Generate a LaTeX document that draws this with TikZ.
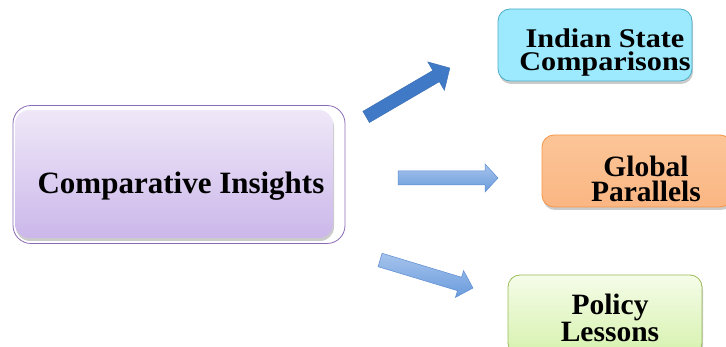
\documentclass[tikz,border=0pt]{standalone}
\usepackage{fontspec}
\setmainfont{Liberation Serif}[BoldFont={Liberation Serif Bold}]
\newfontfamily\boxfont{Liberation Serif Bold}
\newfontfamily\widefont{Liberation Serif Bold}[FakeStretch=1.12]
\usetikzlibrary{shadows}
\definecolor{mainTop}{HTML}{EFE8F8}
\definecolor{mainBot}{HTML}{CBB7EA}
\definecolor{mainLine}{HTML}{8A6BB5}
\definecolor{indFill}{HTML}{9DE9FD}
\definecolor{indLine}{HTML}{4BACC6}
\definecolor{gloTop}{HTML}{FCC597}
\definecolor{gloBot}{HTML}{FAB683}
\definecolor{gloLine}{HTML}{F79646}
\definecolor{polTop}{HTML}{F5FCE8}
\definecolor{polBot}{HTML}{D6F2AE}
\definecolor{polLine}{HTML}{9BBB59}
\definecolor{darkArrow}{HTML}{4079C6}
\definecolor{arrTop}{HTML}{A6C3EC}
\definecolor{arrBot}{HTML}{6A9CDD}
\definecolor{arrLine}{HTML}{5B8BD2}
\begin{document}
\begin{tikzpicture}[x=1pt,y=1pt,
  box/.style={rounded corners=12pt, line width=0.8pt, inner sep=0pt,
    drop shadow={shadow xshift=1pt, shadow yshift=-3pt, fill=black!45, opacity=0.45}},
  lbl/.style={anchor=base, inner sep=0pt, align=center,
    font=\boxfont\fontsize{29.5}{24.5}\selectfont},
  darkarr/.style={fill=darkArrow, draw=darkArrow!90!black, line width=0.4pt},
  lightarr/.style={top color=arrTop, bottom color=arrBot, draw=arrLine, line width=0.5pt}
]
\useasboundingbox (0,0) rectangle (726,347);

% main box
\node[box, top color=mainTop, bottom color=mainBot,
      minimum width=318pt, minimum height=128pt, rounded corners=14pt] (mainin) at (174,173) {};
\node[draw=mainLine, line width=0.8pt, rounded corners=18pt, inner sep=0pt,
      minimum width=332pt, minimum height=138pt] (mainout) at (179,172.5) {};
\node[lbl, font=\boxfont\fontsize{31}{31}\selectfont] (maintext) at (181,153) {Comparative Insights};

% Indian State Comparisons
\node[box, fill=indFill, draw=indLine, minimum width=194pt, minimum height=72pt] (ind) at (595,302) {};
\node[lbl, anchor=north, font=\widefont\fontsize{27}{22.5}\selectfont] (indt) at (605,318) {Indian State\\Comparisons};

% Global Parallels
\node[box, top color=gloTop, bottom color=gloBot, draw=gloLine, minimum width=190pt, minimum height=72pt] (glo) at (637,176) {};
\node[lbl, anchor=north] (glot) at (646,191) {Global\\Parallels};

% Policy Lessons
\node[box, top color=polTop, bottom color=polBot, draw=polLine, minimum width=194pt, minimum height=80pt] (pol) at (605,32) {};
\node[lbl, anchor=north] (polt) at (610,53) {Policy\\Lessons};

% arrows
\draw[darkarr, shift={(408,254.5)}, rotate=30.3]
  (-48.5,-6.5) -- (32.5,-6.5) -- (32.5,-16.5) -- (48.5,0) -- (32.5,16.5) -- (32.5,6.5) -- (-48.5,6.5) -- cycle;
\draw[lightarr]
  (398,162) -- (485,162) -- (485,155) -- (498,169) -- (485,183) -- (485,176) -- (398,176) -- cycle;
\draw[lightarr, shift={(426.5,73)}, rotate=-16.8]
  (-48.5,-7) -- (34.5,-7) -- (34.5,-14) -- (48.5,0) -- (34.5,14) -- (34.5,7) -- (-48.5,7) -- cycle;
\end{tikzpicture}
\end{document}
